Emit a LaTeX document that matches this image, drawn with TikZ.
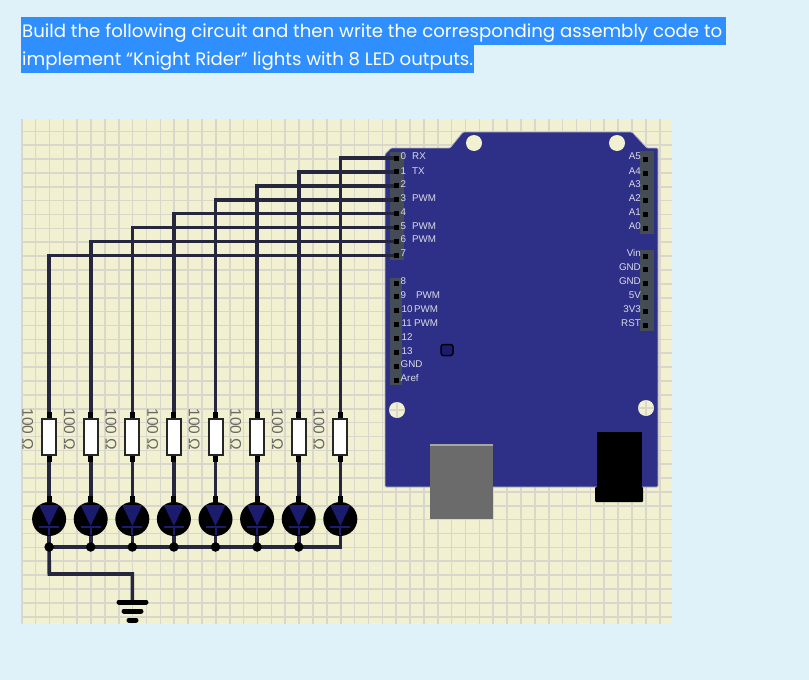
\documentclass[tikz,border=0pt]{standalone}
\usepackage{graphicx}
\usepackage{fontspec}
\setmainfont{Liberation Sans}
\newfontfamily\headfont{Poppins}
\definecolor{pagebg}{HTML}{DFF2F9}
\definecolor{selblue}{HTML}{2F8FFF}
\definecolor{gridbg}{HTML}{F1F0D0}
\definecolor{gridln}{HTML}{D9D6CB}
\definecolor{wirec}{HTML}{26263F}
\definecolor{boardc}{HTML}{2E3087}
\definecolor{headerc}{HTML}{444C56}
\definecolor{ledc}{HTML}{1C1C6E}
\definecolor{pinlabel}{HTML}{DADAE6}
\definecolor{reslabel}{HTML}{6A6A62}
\tikzset{
  wire/.style={draw=wirec,line width=3.6pt,line join=miter},
  pinblk/.style={fill=black,inner sep=0pt,minimum size=5pt,draw=none},
  resbox/.style={draw=black!85,fill=white,line width=2pt,minimum width=14pt,minimum height=36pt,inner sep=0pt},
  ledball/.style={circle,fill=black,minimum size=34pt,inner sep=0pt},
  busdot/.style={circle,fill=black,minimum size=9.5pt,inner sep=0pt},
  plabel/.style={text=pinlabel,font=\fontsize{9.8}{10}\selectfont,inner sep=0pt},
  rlabel/.style={text=reslabel,font=\fontsize{15.5}{16}\selectfont,rotate=-90,inner sep=0pt},
  hole/.style={circle,fill=gridbg,minimum size=16pt,inner sep=0pt},
  headline/.style={text=white,anchor=west,inner sep=0pt,font=\headfont\fontsize{18}{20}\selectfont},
}
\begin{document}
\begin{tikzpicture}[x=1pt,y=-1pt]
\useasboundingbox (0,0) rectangle (809,680);
\fill[pagebg] (0,0) rectangle (809,680);
% selection
\fill[selblue] (21,17) rectangle (726,45);
\fill[selblue] (21,45) rectangle (474,73);
\node[headline] (line1) at (22,33.5) {\resizebox{700pt}{\height}{Build the following circuit and then write the corresponding assembly code to}};
\node[headline] (line2) at (22,61.5) {\resizebox{451pt}{\height}{implement “Knight Rider” lights with 8 LED outputs.}};
% grid
\fill[gridbg] (21,119) rectangle (672,624);
\foreach \k in {0,...,46} \draw[gridln,line width=1.6pt] ({21.7+13.87*\k},119) -- ({21.7+13.87*\k},624);
\foreach \k in {0,...,35} \draw[gridln,line width=1.6pt] (21,{131.3+13.87*\k}) -- (672,{131.3+13.87*\k});
% board
\draw[fill=boardc,draw=gridln!80!boardc,line width=.8pt,rounded corners=1pt]
  (385,154) -- (391,148) -- (450,148) -- (463,132) -- (632,132) -- (647,148) -- (658,148) -- (658,487) -- (385,487) -- cycle;
\node[hole] (h1) at (474,143) {};
\node[hole] (h2) at (617,143) {};
\node[hole] (h3) at (397,410) {};
\node[hole] (h4) at (646,408) {};
\draw[gridln,line width=1.4pt] (389,410) -- (405,410) (397,402) -- (397,418) (638,408) -- (654,408) (646,400) -- (646,416);
% headers
\fill[headerc] (390,152) rectangle (404,260);
\fill[headerc] (390,278) rectangle (402,385);
\fill[headerc] (640,151) rectangle (654,234);
\fill[headerc] (640,250) rectangle (654,331);
% LED on board
\node[draw=black,fill=ledc,line width=1.5pt,rounded corners=2.5pt,minimum width=12pt,minimum height=11pt,inner sep=0pt] (boardled) at (447,350) {};
% left pins upper
\foreach \i in {0,...,7} \node[pinblk] (L\i) at (396,{158+13.9*\i}) {};
% left pins lower
\foreach \i in {0,...,7} \node[pinblk] (M\i) at (396,{283+13.9*\i}) {};
% right pins
\foreach \i in {0,...,5} \node[pinblk] (A\i) at (645.7,{159.5+13.8*\i}) {};
\foreach \i in {0,...,5} \node[pinblk] (P\i) at (645.7,{256+13.8*\i}) {};
% pin labels
\foreach \t/\y [count=\n] in {0/156,1/171,2/184,3/198,4/212,5/226,6/239,7/253,8/281,9/295}
  \node[plabel,anchor=west] (LT\n) at (400.5,\y) {\t};
\node[plabel,anchor=west] (l10) at (401.5,309) {10};
\node[plabel,anchor=west] (l11) at (401.5,323) {11};
\node[plabel,anchor=west] (l12) at (401.5,337) {12};
\node[plabel,anchor=west] (l13) at (401.5,351) {13};
\node[plabel,anchor=west] (lg) at (400.5,364) {GND};
\node[plabel,anchor=west] (la) at (400.5,378) {Aref};
\node[plabel,anchor=west] (f0) at (412,156) {RX};
\node[plabel,anchor=west] (f1) at (412,171) {TX};
\node[plabel,anchor=west] (f3) at (412,198) {PWM};
\node[plabel,anchor=west] (f5) at (412,226) {PWM};
\node[plabel,anchor=west] (f6) at (412,239) {PWM};
\node[plabel,anchor=west] (f9) at (416,295) {PWM};
\node[plabel,anchor=west] (f10) at (414,309) {PWM};
\node[plabel,anchor=west] (f11) at (414,323) {PWM};
\foreach \t/\y [count=\n] in {A5/156,A4/171,A3/184,A2/198,A1/212,A0/226,Vin/253,GND/267,GND/281,5V/295,3V3/309,RST/323}
  \node[plabel,anchor=east] (RT\n) at (641,\y) {\t};
% connectors USB and jack
\fill[black!58] (430,444) rectangle (493,519);
\fill[black!35] (430,444) rectangle (493,446);
\fill[black,rounded corners=1pt] (595,487) rectangle (643,502);
\fill[black] (597,432) rectangle (642,490);
% named junctions (drawn on top further down)
\foreach \i in {1,...,7}{
  \pgfmathsetmacro{\cx}{340.3-41.6*\i}
  \coordinate (B\i) at (\cx,547);
}
\coordinate (B0) at (340.3,547);
\coordinate (GC) at (49.3,574);
\coordinate (G) at (132.3,602);
% circuit parts
\foreach \i in {0,...,7}{
  \pgfmathsetmacro{\cx}{340.3-41.6*\i}
  \node[resbox] (R\i) at (\cx,436.5) {};
  \node[rlabel] (RL\i) at ({\cx-21.3},429.5) {100 Ω};
  \node[ledball] (D\i) at (\cx,519) {};
}
% wires
\foreach \i in {0,...,7}{
  \draw[wire] (L\i.center) -| (R\i.north);
  \draw[wire] (R\i.south) -- (D\i.north);
  \draw[wire] (D\i.south) -- (B\i);
}
\draw[wire,line cap=rect] (B0) -- (B7);
\draw[wire,line cap=rect] (B7) -- (GC) -| (G);
% diode symbols, junctions, lead stubs
\foreach \i in {0,...,7}{
  \pgfmathsetmacro{\cx}{340.3-41.6*\i}
  \fill[ledc] ({\cx-10},505) -- ({\cx+10},505) -- (\cx,526) -- cycle;
  \draw[ledc,line width=2.4pt] ({\cx-10},527) -- ({\cx+10},527);
  \draw[ledc,line width=2pt] (\cx,526) -- (\cx,535);
  \draw[black,line width=5pt] (R\i.north) -- ++(0,-6);
  \draw[black,line width=5pt] (R\i.south) -- ++(0,6);
  \draw[black,line width=5pt] (D\i.north) -- ++(0,-6);
  \node[pinblk] at (L\i) {};
}
\foreach \i in {1,...,7} \node[busdot] (J\i) at (B\i) {};
% ground
\draw[black,line width=5pt,line cap=round] (119,602) -- (146,602);
\draw[black,line width=5pt,line cap=round] (124,611) -- (141,611);
\draw[black,line width=5pt,line cap=round] (129,620) -- (136,620);
\end{tikzpicture}
\end{document}
